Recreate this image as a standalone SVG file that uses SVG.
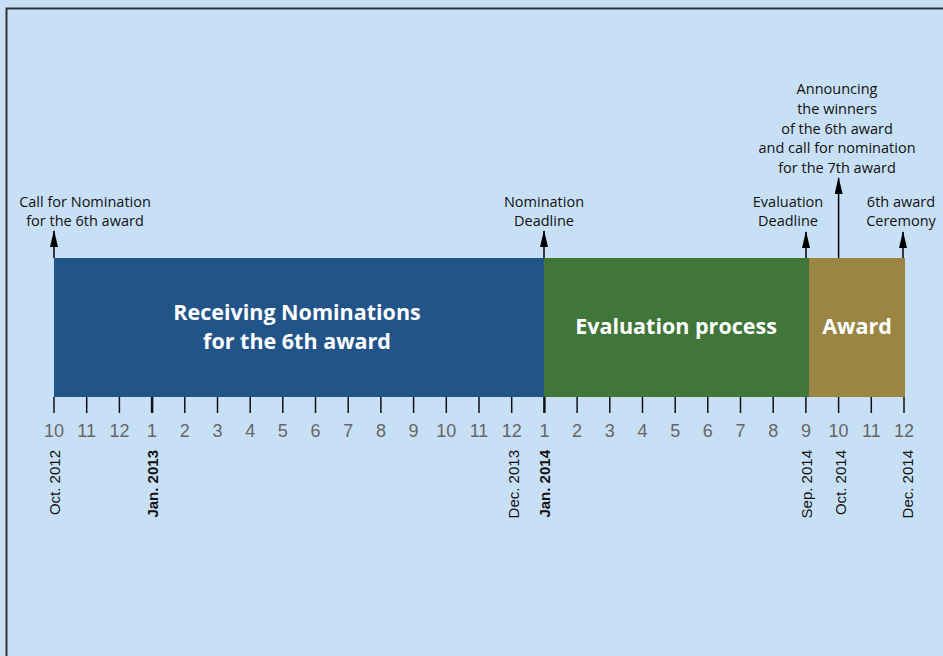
<svg xmlns="http://www.w3.org/2000/svg" width="943" height="656" viewBox="0 0 943 656">
  <defs>
    <marker id="arr" viewBox="0 0 17 8" refX="16" refY="4" markerWidth="17" markerHeight="8" markerUnits="userSpaceOnUse" orient="auto">
      <path d="M0,0 L17,4 L0,8 Z" fill="#000"/>
    </marker>
    <style>
      .lbl { font-family: "Open Sans", "Noto Sans", sans-serif; font-size: 14.5px; fill: #111; text-anchor: middle; }
      .bar { font-family: "Open Sans", "Noto Sans", sans-serif; font-size: 21.5px; font-weight: bold; fill: #fff; text-anchor: middle; }
      .num { font-family: "Liberation Sans", Arial, sans-serif; font-size: 18px; fill: #666; text-anchor: middle; }
      .date { font-family: "Liberation Sans", Arial, sans-serif; font-size: 15px; fill: #111; text-anchor: end; }
      .bold { font-weight: bold; }
      .tick { stroke: #111; stroke-width: 1.5; }
      .tickb { stroke: #111; stroke-width: 2.5; }
      .conn { stroke: #000; stroke-width: 1.5; fill: none; }
    </style>
  </defs>

  <rect x="0" y="0" width="943" height="656" fill="#c8e0f6"/>
  <path d="M6.5,656 V8.5 H943" fill="none" stroke="#333" stroke-width="2"/>

  <g id="receiving">
    <rect x="54" y="258" width="490" height="139" fill="#215589"/>
    <text class="bar" x="297" y="320">Receiving Nominations</text>
    <text class="bar" x="297" y="349">for the 6th award</text>
  </g>
  <g id="evaluation">
    <rect x="544" y="258" width="265" height="139" fill="#41763a"/>
    <text class="bar" x="676" y="334">Evaluation process</text>
  </g>
  <g id="award">
    <rect x="809" y="258" width="96" height="139" fill="#9a8642"/>
    <text class="bar" x="857" y="334">Award</text>
  </g>

  <g id="ticks">
    <line class="tick" x1="54" y1="397" x2="54" y2="413"/>
    <line class="tick" x1="86.7" y1="397" x2="86.7" y2="413"/>
    <line class="tick" x1="119.4" y1="397" x2="119.4" y2="413"/>
    <line class="tickb" x1="152.1" y1="397" x2="152.1" y2="413"/>
    <line class="tick" x1="184.8" y1="397" x2="184.8" y2="413"/>
    <line class="tick" x1="217.5" y1="397" x2="217.5" y2="413"/>
    <line class="tick" x1="250.2" y1="397" x2="250.2" y2="413"/>
    <line class="tick" x1="282.8" y1="397" x2="282.8" y2="413"/>
    <line class="tick" x1="315.5" y1="397" x2="315.5" y2="413"/>
    <line class="tick" x1="348.2" y1="397" x2="348.2" y2="413"/>
    <line class="tick" x1="380.9" y1="397" x2="380.9" y2="413"/>
    <line class="tick" x1="413.6" y1="397" x2="413.6" y2="413"/>
    <line class="tick" x1="446.3" y1="397" x2="446.3" y2="413"/>
    <line class="tick" x1="479" y1="397" x2="479" y2="413"/>
    <line class="tick" x1="511.7" y1="397" x2="511.7" y2="413"/>
    <line class="tickb" x1="544.4" y1="397" x2="544.4" y2="413"/>
    <line class="tick" x1="577.1" y1="397" x2="577.1" y2="413"/>
    <line class="tick" x1="609.8" y1="397" x2="609.8" y2="413"/>
    <line class="tick" x1="642.5" y1="397" x2="642.5" y2="413"/>
    <line class="tick" x1="675.2" y1="397" x2="675.2" y2="413"/>
    <line class="tick" x1="707.8" y1="397" x2="707.8" y2="413"/>
    <line class="tick" x1="740.5" y1="397" x2="740.5" y2="413"/>
    <line class="tick" x1="773.2" y1="397" x2="773.2" y2="413"/>
    <line class="tick" x1="805.9" y1="397" x2="805.9" y2="413"/>
    <line class="tick" x1="838.6" y1="397" x2="838.6" y2="413"/>
    <line class="tick" x1="871.3" y1="397" x2="871.3" y2="413"/>
    <line class="tick" x1="904" y1="397" x2="904" y2="413"/>
  </g>

  <g id="month-numbers">
    <text class="num" x="54" y="437">10</text>
    <text class="num" x="86.7" y="437">11</text>
    <text class="num" x="119.4" y="437">12</text>
    <text class="num" x="152.1" y="437">1</text>
    <text class="num" x="184.8" y="437">2</text>
    <text class="num" x="217.5" y="437">3</text>
    <text class="num" x="250.2" y="437">4</text>
    <text class="num" x="282.8" y="437">5</text>
    <text class="num" x="315.5" y="437">6</text>
    <text class="num" x="348.2" y="437">7</text>
    <text class="num" x="380.9" y="437">8</text>
    <text class="num" x="413.6" y="437">9</text>
    <text class="num" x="446.3" y="437">10</text>
    <text class="num" x="479" y="437">11</text>
    <text class="num" x="511.7" y="437">12</text>
    <text class="num" x="544.4" y="437">1</text>
    <text class="num" x="577.1" y="437">2</text>
    <text class="num" x="609.8" y="437">3</text>
    <text class="num" x="642.5" y="437">4</text>
    <text class="num" x="675.2" y="437">5</text>
    <text class="num" x="707.8" y="437">6</text>
    <text class="num" x="740.5" y="437">7</text>
    <text class="num" x="773.2" y="437">8</text>
    <text class="num" x="805.9" y="437">9</text>
    <text class="num" x="838.6" y="437">10</text>
    <text class="num" x="871.3" y="437">11</text>
    <text class="num" x="904" y="437">12</text>
  </g>

  <g id="dates">
    <text class="date" transform="translate(60,450) rotate(-90)">Oct. 2012</text>
    <text class="date bold" transform="translate(158,450) rotate(-90)">Jan. 2013</text>
    <text class="date" transform="translate(519,450) rotate(-90)">Dec. 2013</text>
    <text class="date bold" transform="translate(550,450) rotate(-90)">Jan. 2014</text>
    <text class="date" transform="translate(812,450) rotate(-90)">Sep. 2014</text>
    <text class="date" transform="translate(846,450) rotate(-90)">Oct. 2014</text>
    <text class="date" transform="translate(913,450) rotate(-90)">Dec. 2014</text>
  </g>

  <g id="call-nomination">
    <text class="lbl" x="85" y="207">Call for Nomination</text>
    <text class="lbl" x="85" y="226">for the 6th award</text>
  </g>
  <g id="nomination-deadline">
    <text class="lbl" x="544" y="207">Nomination</text>
    <text class="lbl" x="544" y="226">Deadline</text>
  </g>
  <g id="evaluation-deadline">
    <text class="lbl" x="788" y="207">Evaluation</text>
    <text class="lbl" x="788" y="226">Deadline</text>
  </g>
  <g id="announcing">
    <text class="lbl" x="837" y="94">Announcing</text>
    <text class="lbl" x="837" y="114">the winners</text>
    <text class="lbl" x="837" y="134">of the 6th award</text>
    <text class="lbl" x="837" y="153">and call for nomination</text>
    <text class="lbl" x="837" y="173">for the 7th award</text>
  </g>
  <g id="ceremony">
    <text class="lbl" x="901" y="207">6th award</text>
    <text class="lbl" x="901" y="226">Ceremony</text>
  </g>

  <g id="connectors">
    <line class="conn" x1="54" y1="258" x2="54" y2="231" marker-end="url(#arr)"/>
    <line class="conn" x1="544" y1="258" x2="544" y2="231" marker-end="url(#arr)"/>
    <line class="conn" x1="806" y1="258" x2="806" y2="232" marker-end="url(#arr)"/>
    <line class="conn" x1="838.6" y1="258" x2="838.6" y2="178" marker-end="url(#arr)"/>
    <line class="conn" x1="903" y1="258" x2="903" y2="232" marker-end="url(#arr)"/>
  </g>
</svg>
